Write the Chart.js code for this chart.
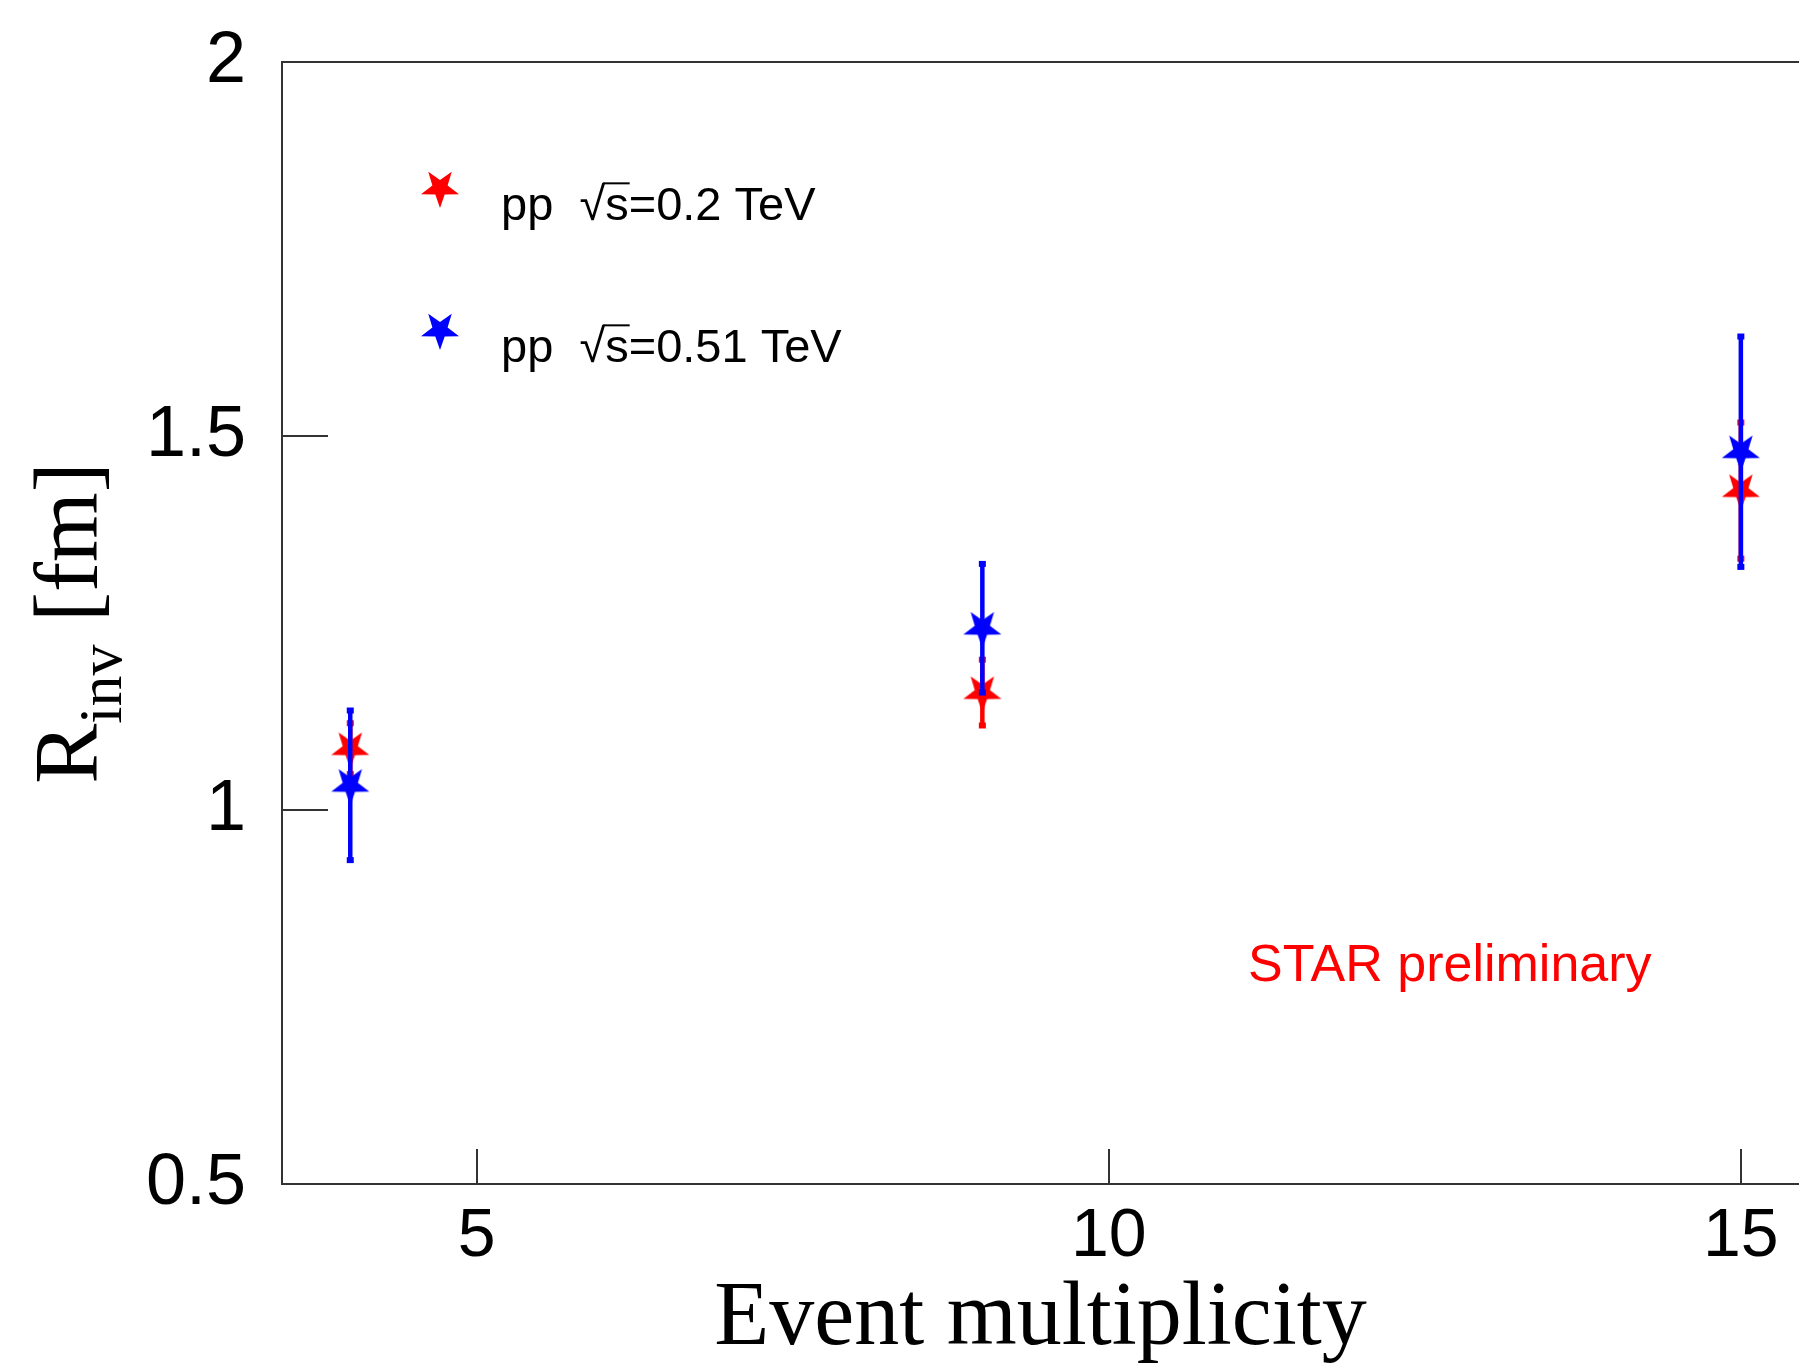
<!DOCTYPE html>
<html>
<head>
<meta charset="utf-8">
<script src="https://cdn.jsdelivr.net/npm/chart.js@4/dist/chart.umd.min.js"></script>
<style>
html,body{margin:0;padding:0;background:#fff;overflow:hidden}
#wrap{width:1799px;height:1367px;position:relative}
</style>
</head>
<body>
<div id="wrap"><canvas id="c" width="1799" height="1367"></canvas></div>
<script>
// ---- data ----
const multiplicity = [4, 9, 15];
const rinv200 = [1.082, 1.157, 1.427];
const err200 = [0.034, 0.044, 0.091];
const rinv510 = [1.033, 1.243, 1.479];
const err510 = [0.100, 0.086, 0.154];
const seriesPrefix = ['pp  ', 'pp  '];
const seriesEnergy = ['=0.2 TeV', '=0.51 TeV'];
const seriesLabels = ['pp \u221As=0.2 TeV', 'pp \u221As=0.51 TeV'];
const seriesColors = ['#ff0000', '#0000ff'];
const xTicks = [5, 10, 15];
const xTickLabels = ['5', '10', '15'];
const yTicks = [0.5, 1, 1.5, 2];
const yTickLabels = ['0.5', '1', '1.5', '2'];
const xTitle = 'Event multiplicity';
const yTitleMain = 'R', yTitleSub = 'inv', yTitleUnit = ' [fm]';
const annotationText = 'STAR preliminary';

// ---- star marker (inverted five-pointed star) ----
function starCanvas(color, R) {
  const s = Math.ceil(2 * R + 4);
  const c = document.createElement('canvas');
  c.width = s; c.height = s;
  const g = c.getContext('2d');
  g.translate(s / 2, s / 2);
  g.beginPath();
  const r = R * 0.4;
  for (let i = 0; i < 10; i++) {
    const rad = i % 2 === 0 ? R : r;
    const a = Math.PI + i * Math.PI / 5;
    const px = rad * Math.sin(a), py = -rad * Math.cos(a);
    if (i === 0) g.moveTo(px, py); else g.lineTo(px, py);
  }
  g.closePath();
  g.fillStyle = color;
  g.fill();
  return c;
}
const stars = seriesColors.map(c => starCanvas(c, 20));

function pts(ys, es) { return multiplicity.map((x, i) => ({x: x, y: ys[i], e: es[i]})); }

// ---- plugins ----
const errorBars = {
  id: 'errorBars',
  beforeDatasetDraw(chart, args) {
    const ds = chart.data.datasets[args.index];
    const xs = chart.scales.x, ys = chart.scales.y, ctx = chart.ctx;
    ctx.save();
    ctx.strokeStyle = ds.borderColor; ctx.fillStyle = ds.borderColor; ctx.lineWidth = 4.5;
    ds.data.forEach(p => {
      const x = xs.getPixelForValue(p.x);
      const y1 = ys.getPixelForValue(p.y + p.e), y2 = ys.getPixelForValue(p.y - p.e);
      ctx.beginPath(); ctx.moveTo(x, y1); ctx.lineTo(x, y2); ctx.stroke();
      ctx.fillRect(x - 3.5, y1 - 3, 7, 6); ctx.fillRect(x - 3.5, y2 - 3, 7, 6);
    });
    ctx.restore();
  }
};

const innerTicks = {
  id: 'innerTicks',
  beforeDatasetsDraw(chart) {
    const {ctx, chartArea: a, scales: {x, y}} = chart;
    ctx.save();
    ctx.strokeStyle = '#333'; ctx.lineWidth = 2;
    ctx.beginPath();
    yTicks.forEach(v => { const py = Math.round(y.getPixelForValue(v)); ctx.moveTo(a.left, py); ctx.lineTo(a.left + 46, py); });
    xTicks.forEach(v => { const px = Math.round(x.getPixelForValue(v)); ctx.moveTo(px, a.bottom); ctx.lineTo(px, a.bottom - 35); });
    ctx.stroke();
    ctx.restore();
  }
};

const overlay = {
  id: 'overlay',
  afterDraw(chart) {
    const {ctx, chartArea: a} = chart;
    ctx.save();
    // legend
    const lf = 47;
    [0, 1].forEach(i => {
      const sy = 188 + i * 142, by = 220 + i * 142;
      ctx.drawImage(stars[i], 440 - stars[i].width / 2, sy - stars[i].height / 2);
      ctx.font = lf + 'px "Liberation Sans", Arial, sans-serif';
      ctx.fillStyle = '#000'; ctx.textBaseline = 'alphabetic'; ctx.textAlign = 'left';
      let x = 501;
      ctx.fillText(seriesPrefix[i], x, by); x += ctx.measureText(seriesPrefix[i]).width;
      ctx.fillText('\u221A', x, by); const rw = ctx.measureText('\u221A').width; x += rw;
      ctx.fillText('s', x, by); const sw = ctx.measureText('s').width;
      ctx.strokeStyle = '#000'; ctx.lineWidth = 2;
      ctx.beginPath(); ctx.moveTo(x - 2, by - lf * 0.78); ctx.lineTo(x + sw + 1, by - lf * 0.78); ctx.stroke();
      x += sw;
      ctx.fillText(seriesEnergy[i], x, by);
    });
    // annotation
    ctx.font = '52px "Liberation Sans", Arial, sans-serif';
    ctx.fillStyle = '#ff0000';
    ctx.fillText(annotationText, 1248, 981);
    // y title
    const cy = (a.top + a.bottom) / 2;
    ctx.translate(97, cy);
    ctx.rotate(-Math.PI / 2);
    ctx.fillStyle = '#000';
    const mf = '90px "Liberation Serif", "Times New Roman", serif';
    const sf = '62px "Liberation Serif", "Times New Roman", serif';
    ctx.font = mf; const w1 = ctx.measureText(yTitleMain).width, w3 = ctx.measureText(yTitleUnit).width;
    ctx.font = sf; const w2 = ctx.measureText(yTitleSub).width;
    let tx = -(w1 + w2 + w3) / 2;
    ctx.font = mf; ctx.fillText(yTitleMain, tx, 0); tx += w1;
    ctx.font = sf; ctx.fillText(yTitleSub, tx, 24); tx += w2;
    ctx.font = mf; ctx.fillText(yTitleUnit, tx, 0);
    ctx.restore();
  }
};

function noPad(s) { s.paddingTop = 0; s.paddingBottom = 0; s.paddingLeft = 0; s.paddingRight = 0; }

new Chart(document.getElementById('c'), {
  type: 'scatter',
  data: {
    datasets: [
      {label: seriesLabels[0], data: pts(rinv200, err200), borderColor: seriesColors[0], backgroundColor: seriesColors[0],
       pointStyle: stars[0], pointRadius: 20, pointHoverRadius: 20, showLine: false, order: 2},
      {label: seriesLabels[1], data: pts(rinv510, err510), borderColor: seriesColors[1], backgroundColor: seriesColors[1],
       pointStyle: stars[1], pointRadius: 20, pointHoverRadius: 20, showLine: false, order: 1}
    ]
  },
  options: {
    responsive: false,
    animation: false,
    devicePixelRatio: 1,
    layout: {padding: 0, autoPadding: false},
    plugins: {legend: {display: false}, tooltip: {enabled: false}},
    scales: {
      x: {
        type: 'linear', position: 'bottom', min: 3.46, max: 15.46,
        afterBuildTicks: s => { s.ticks = xTicks.map(v => ({value: v})); },
        ticks: {font: {family: '"Liberation Sans", Arial, sans-serif', size: 68}, color: '#000', padding: 12, maxRotation: 0, autoSkip: false,
                callback: v => xTickLabels[xTicks.indexOf(v)]},
        grid: {display: false, drawTicks: false},
        border: {display: true, color: '#333', width: 2},
        title: {display: true, text: xTitle, color: '#000',
                font: {family: '"Liberation Serif", "Times New Roman", serif', size: 90, lineHeight: 1},
                padding: {top: 0, bottom: 2}},
        afterFit: s => { s.height = 183; noPad(s); }
      },
      x2: {
        type: 'linear', position: 'top', min: 3.46, max: 15.46,
        ticks: {display: false},
        grid: {display: false, drawTicks: false},
        border: {display: true, color: '#333', width: 2},
        afterFit: s => { s.height = 62; noPad(s); }
      },
      y: {
        type: 'linear', position: 'left', min: 0.5, max: 2,
        afterBuildTicks: s => { s.ticks = yTicks.map(v => ({value: v})); },
        ticks: {font: {family: '"Liberation Sans", Arial, sans-serif', size: 72}, color: '#000', padding: 36, autoSkip: false,
                callback: v => yTickLabels[yTicks.indexOf(v)]},
        grid: {display: false, drawTicks: false},
        border: {display: true, color: '#333', width: 2},
        afterFit: s => { s.width = 282; noPad(s); }
      }
    }
  },
  plugins: [innerTicks, errorBars, overlay]
});
</script>
</body>
</html>
